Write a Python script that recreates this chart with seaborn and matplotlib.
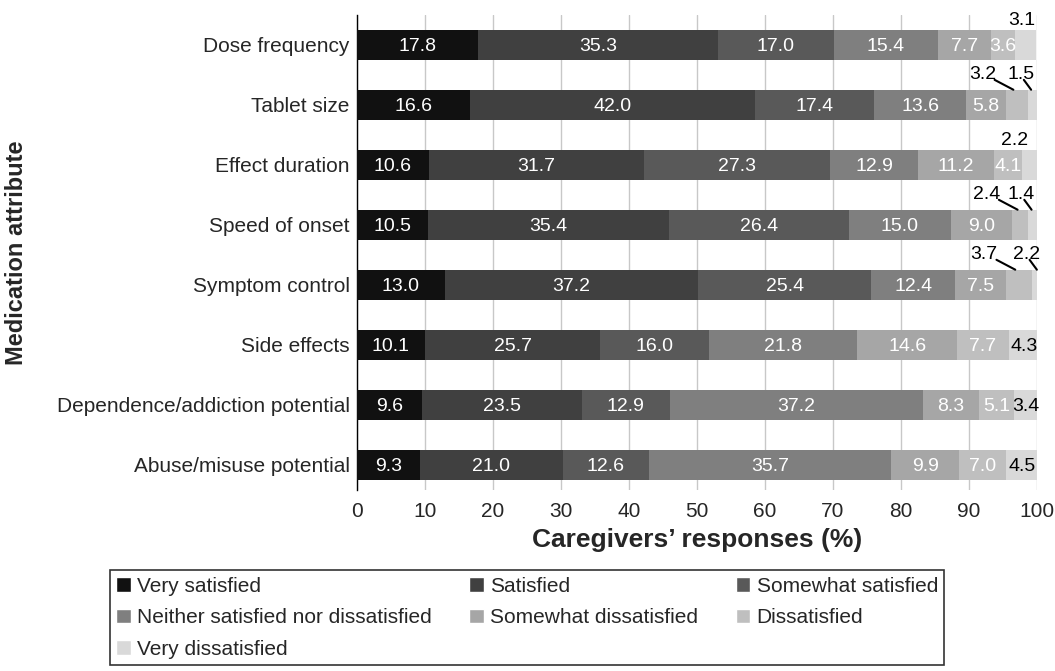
import numpy as np
import pandas as pd
import seaborn as sns
import matplotlib.pyplot as plt
from matplotlib.patches import Patch

attributes = [
    "Dose frequency",
    "Tablet size",
    "Effect duration",
    "Speed of onset",
    "Symptom control",
    "Side effects",
    "Dependence/addiction potential",
    "Abuse/misuse potential",
]
responses = [
    "Very satisfied",
    "Satisfied",
    "Somewhat satisfied",
    "Neither satisfied nor dissatisfied",
    "Somewhat dissatisfied",
    "Dissatisfied",
    "Very dissatisfied",
]
very_satisfied = [17.8, 16.6, 10.6, 10.5, 13.0, 10.1, 9.6, 9.3]
satisfied = [35.3, 42.0, 31.7, 35.4, 37.2, 25.7, 23.5, 21.0]
somewhat_satisfied = [17.0, 17.4, 27.3, 26.4, 25.4, 16.0, 12.9, 12.6]
neither = [15.4, 13.6, 12.9, 15.0, 12.4, 21.8, 37.2, 35.7]
somewhat_dissatisfied = [7.7, 5.8, 11.2, 9.0, 7.5, 14.6, 8.3, 9.9]
dissatisfied = [3.6, 3.2, 4.1, 2.4, 3.7, 7.7, 5.1, 7.0]
very_dissatisfied = [3.1, 1.5, 2.2, 1.4, 2.2, 4.3, 3.4, 4.5]

colors = ["#111111", "#404040", "#595959", "#7f7f7f", "#a6a6a6", "#bfbfbf", "#d9d9d9"]

d = pd.DataFrame(
    np.array([very_satisfied, satisfied, somewhat_satisfied, neither,
              somewhat_dissatisfied, dissatisfied, very_dissatisfied]).T,
    index=attributes,
    columns=responses,
)
cum = d.cumsum(axis=1)
left = cum - d

# labels drawn outside the bar: (row, column) -> pixel offset, leader line or not
outside = {
    (0, 6): (-4, 9, False),
    (1, 5): (-31, 15, True),
    (1, 6): (-10, 15, True),
    (2, 6): (-15, 9, False),
    (3, 5): (-31, 15, True),
    (3, 6): (-10, 15, True),
    (4, 5): (-31, 15, True),
    (4, 6): (-10, 15, True),
}

sns.set_style("white")
plt.rcParams["font.family"] = ["Liberation Sans", "DejaVu Sans"]

fig = plt.figure(figsize=(10.55, 6.71), dpi=100)
ax = fig.add_axes([0.338, 0.27, 0.645, 0.708])

# stacked bars: draw the cumulative totals from the right end backwards
for j in range(len(responses) - 1, -1, -1):
    sns.barplot(
        x=cum[responses[j]].values,
        y=attributes,
        orient="h",
        color=colors[j],
        width=0.5,
        saturation=1,
        linewidth=0,
        errorbar=None,
        ax=ax,
        zorder=3,
    )

for i in range(len(attributes)):
    for j in range(len(responses)):
        v = d.iloc[i, j]
        x0 = left.iloc[i, j]
        if (i, j) in outside:
            dx, dy, line = outside[(i, j)]
            xy = (x0 + v * 0.35, i - 0.25) if line else (x0 + v / 2, i - 0.25)
            ax.annotate(
                f"{v:.1f}",
                xy=xy,
                xytext=(dx, dy),
                textcoords="offset pixels",
                ha="center",
                va="center",
                fontsize=14,
                color="black",
                arrowprops=dict(arrowstyle="-", color="black", lw=1.5,
                                patchA=None, shrinkA=0, shrinkB=0,
                                relpos=(0.95, 0.2) if j == 5 else (0.6, 0.2))
                if line else None,
                zorder=5,
            )
        else:
            ax.annotate(
                f"{v:.1f}",
                xy=(x0 + v / 2, i),
                xytext=(0, -1.5),
                textcoords="offset pixels",
                ha="center", va="center", fontsize=14,
                color="black" if j == 6 else "white",
                zorder=5,
            )

ax.set_xlim(0, 100)
ax.set_ylim(7.42, -0.5)
ax.set_yticks(np.arange(len(attributes)))
ax.set_yticklabels(attributes, fontsize=15)
ax.set_xticks(np.arange(0, 101, 10))
ax.tick_params(axis="x", labelsize=15, length=0, pad=9)
ax.tick_params(axis="y", length=0, pad=5)
ax.grid(axis="x", color="#c8c8c8", lw=1, zorder=0)
ax.set_axisbelow(True)
for s in ["top", "right", "bottom"]:
    ax.spines[s].set_visible(False)
ax.spines["left"].set_color("black")
ax.spines["left"].set_linewidth(1)
ax.set_xlabel("Caregivers\u2019 responses (%)", fontsize=19, fontweight="bold", labelpad=5)
ax.set_ylabel("Medication attribute", fontsize=17, fontweight="bold")
ax.yaxis.set_label_coords(-0.483, 0.5)

handles = [Patch(facecolor=c, label=r) for c, r in zip(colors, responses)]
order = [0, 3, 6, 1, 4, 2, 5]
leg = fig.legend(
    [handles[k] for k in order],
    [responses[k] for k in order],
    ncol=3,
    loc="lower left",
    bbox_to_anchor=(0.104, 0.009, 0.791, 0.144),
    mode="expand",
    fontsize=15,
    frameon=True,
    fancybox=False,
    edgecolor="black",
    handlelength=0.7,
    handleheight=0.7,
    handletextpad=0.3,
    labelspacing=0.6,
    borderaxespad=0,
    borderpad=0.3,
)
leg.get_frame().set_linewidth(1.2)

fig.savefig("out.png", dpi=100)
